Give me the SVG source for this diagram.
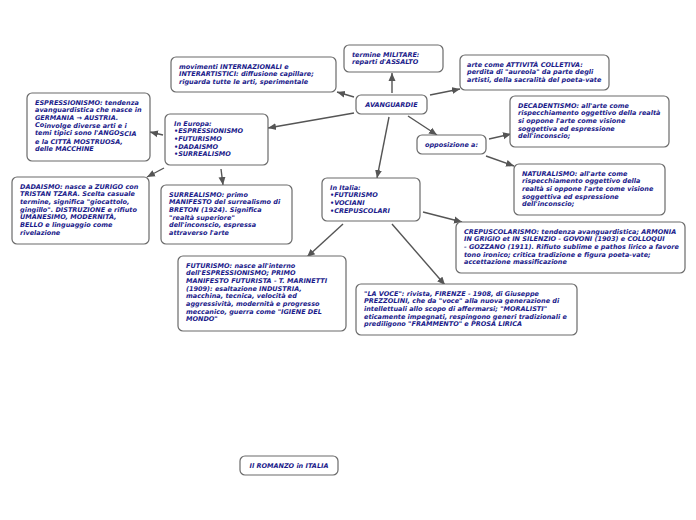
<svg xmlns="http://www.w3.org/2000/svg" width="696" height="520" viewBox="0 0 696 520">
<style>
.b{fill:#fff;stroke:#6a6a6a;stroke-width:1.2}
.t{font-family:"DejaVu Sans",Verdana,sans-serif;font-size:6.5px;font-weight:bold;font-style:italic;fill:#1a1a8a}
.c{fill:none;stroke:#555;stroke-width:1.4}
</style>
<defs>
<marker id="ah" markerUnits="userSpaceOnUse" markerWidth="9" markerHeight="8" refX="8" refY="4" orient="auto">
<path d="M0,0.5 L8,4 L0,7.5 z" fill="#555"/>
</marker>
</defs>
<rect width="696" height="520" fill="#fff"/>
<g id="connectors">
<line class="c" x1="392" y1="93" x2="392" y2="73" marker-end="url(#ah)"/>
<line class="c" x1="354" y1="97" x2="337" y2="92" marker-end="url(#ah)"/>
<line class="c" x1="430" y1="95" x2="460" y2="89" marker-end="url(#ah)"/>
<line class="c" x1="354" y1="113" x2="268" y2="128" marker-end="url(#ah)"/>
<line class="c" x1="408" y1="116" x2="437" y2="135" marker-end="url(#ah)"/>
<line class="c" x1="389" y1="117" x2="377" y2="178" marker-end="url(#ah)"/>
<line class="c" x1="489" y1="139" x2="511" y2="134" marker-end="url(#ah)"/>
<line class="c" x1="486" y1="156" x2="514" y2="166" marker-end="url(#ah)"/>
<line class="c" x1="163" y1="135" x2="150" y2="132" marker-end="url(#ah)"/>
<line class="c" x1="164" y1="168" x2="147" y2="177" marker-end="url(#ah)"/>
<line class="c" x1="221" y1="169" x2="223" y2="185" marker-end="url(#ah)"/>
<line class="c" x1="423" y1="212" x2="462" y2="222" marker-end="url(#ah)"/>
<line class="c" x1="343" y1="224" x2="307" y2="257" marker-end="url(#ah)"/>
<line class="c" x1="392" y1="224" x2="445" y2="285" marker-end="url(#ah)"/>
</g>
<g id="movimenti">
<rect class="b" x="171" y="57" width="165" height="35" rx="5"/>
<text class="t" x="179"><tspan y="68.5">movimenti INTERNAZIONALI e</tspan><tspan x="179" y="76.2">INTERARTISTICI: diffusione capillare;</tspan><tspan x="179" y="83.9">riguarda tutte le arti, sperimentale</tspan></text>
</g>
<g id="termine">
<rect class="b" x="344" y="45" width="99" height="27" rx="5"/>
<text class="t" x="352"><tspan y="56.5">termine MILITARE:</tspan><tspan x="352" y="64.2">reparti d'ASSALTO</tspan></text>
</g>
<g id="arte">
<rect class="b" x="460" y="55" width="149" height="35" rx="5"/>
<text class="t" x="467"><tspan y="66.5">arte come ATTIVITÀ COLLETIVA:</tspan><tspan x="467" y="74.2">perdita di "aureola" da parte degli</tspan><tspan x="467" y="81.9">artisti, della sacralità del poeta-vate</tspan></text>
</g>
<g id="avanguardie">
<rect class="b" x="356" y="95" width="71" height="19" rx="5"/>
<text class="t" x="391.5" y="106.8" text-anchor="middle">AVANGUARDIE</text>
</g>
<g id="opposizione">
<rect class="b" x="417" y="135" width="69" height="19" rx="5"/>
<text class="t" x="451.5" y="146.8" text-anchor="middle">opposizione a:</text>
</g>
<g id="espressionismo">
<rect class="b" x="27" y="93" width="123" height="68" rx="5"/>
<text class="t" x="35"><tspan y="104.5">ESPRESSIONISMO: tendenza</tspan><tspan x="35" y="112.2">avanguardistica che nasce in</tspan><tspan x="35" y="119.9">GERMANIA → AUSTRIA.</tspan><tspan x="35" y="127.1">Co</tspan><tspan y="128.1">involge diverse arti e i</tspan><tspan x="35" y="135.3">temi tipici sono l'ANGO</tspan><tspan y="136.3">SCIA</tspan><tspan x="35" y="143.5">e la CITTÀ MOSTRUOSA,</tspan><tspan x="35" y="151.2">delle MACCHINE</tspan></text>
</g>
<g id="europa">
<rect class="b" x="165" y="114" width="103" height="51" rx="5"/>
<text class="t" x="174"><tspan y="125.5">In Europa:</tspan><tspan x="174" y="133.2">•ESPRESSIONISMO</tspan><tspan x="174" y="140.9">•FUTURISMO</tspan><tspan x="174" y="148.6">•DADAISMO</tspan><tspan x="174" y="156.3">•SURREALISMO</tspan></text>
</g>
<g id="decadentismo">
<rect class="b" x="510" y="96" width="159" height="51" rx="5"/>
<text class="t" x="518"><tspan y="107.5">DECADENTISMO: all'arte come</tspan><tspan x="518" y="115.2">rispecchiamento oggettivo della realtà</tspan><tspan x="518" y="122.9">si oppone l'arte come visione</tspan><tspan x="518" y="130.6">soggettiva ed espressione</tspan><tspan x="518" y="138.3">dell'inconscio;</tspan></text>
</g>
<g id="dadaismo">
<rect class="b" x="12" y="177" width="137" height="67" rx="5"/>
<text class="t" x="20"><tspan y="188.5">DADAISMO: nasce a ZURIGO con</tspan><tspan x="20" y="196.2">TRISTAN TZARA. Scelta casuale</tspan><tspan x="20" y="203.9">termine, significa "giocattolo,</tspan><tspan x="20" y="211.6">gingillo". DISTRUZIONE e rifiuto</tspan><tspan x="20" y="219.3">UMANESIMO, MODERNITÀ,</tspan><tspan x="20" y="227">BELLO e linguaggio come</tspan><tspan x="20" y="234.7">rivelazione</tspan></text>
</g>
<g id="surrealismo">
<rect class="b" x="161" y="185" width="131" height="59" rx="5"/>
<text class="t" x="169"><tspan y="196.5">SURREALISMO: primo</tspan><tspan x="169" y="204.2">MANIFESTO del surrealismo di</tspan><tspan x="169" y="211.9">BRETON (1924). Significa</tspan><tspan x="169" y="219.6">"realtà superiore"</tspan><tspan x="169" y="227.3">dell'inconscio, espressa</tspan><tspan x="169" y="235">attraverso l'arte</tspan></text>
</g>
<g id="italia">
<rect class="b" x="322" y="178" width="98" height="43" rx="5"/>
<text class="t" x="330"><tspan y="189.5">In Italia:</tspan><tspan x="330" y="197.2">•FUTURISMO</tspan><tspan x="330" y="204.9">•VOCIANI</tspan><tspan x="330" y="212.6">•CREPUSCOLARI</tspan></text>
</g>
<g id="naturalismo">
<rect class="b" x="514" y="164" width="151" height="51" rx="5"/>
<text class="t" x="522"><tspan y="175.5">NATURALISMO: all'arte come</tspan><tspan x="522" y="183.2">rispecchiamento oggettivo della</tspan><tspan x="522" y="190.9">realtà si oppone l'arte come visione</tspan><tspan x="522" y="198.6">soggettiva ed espressione</tspan><tspan x="522" y="206.3">dell'inconscio;</tspan></text>
</g>
<g id="crepuscolarismo">
<rect class="b" x="456" y="222" width="229" height="51" rx="5"/>
<text class="t" x="464"><tspan y="233.5">CREPUSCOLARISMO: tendenza avanguardistica; ARMONIA</tspan><tspan x="464" y="241.2">IN GRIGIO et IN SILENZIO - GOVONI (1903) e COLLOQUI</tspan><tspan x="464" y="248.9">- GOZZANO (1911). Rifiuto sublime e pathos lirico a favore</tspan><tspan x="464" y="256.6">tono ironico; critica tradizione e figura poeta-vate;</tspan><tspan x="464" y="264.3">accettazione massificazione</tspan></text>
</g>
<g id="futurismo">
<rect class="b" x="178" y="256" width="168" height="75" rx="5"/>
<text class="t" x="186"><tspan y="267.5">FUTURISMO: nasce all'interno</tspan><tspan x="186" y="275.2">dell'ESPRESSIONISMO; PRIMO</tspan><tspan x="186" y="282.9">MANIFESTO FUTURISTA - T. MARINETTI</tspan><tspan x="186" y="290.6">(1909): esaltazione INDUSTRIA,</tspan><tspan x="186" y="298.3">macchina, tecnica, velocità ed</tspan><tspan x="186" y="306">aggressività, modernità e progresso</tspan><tspan x="186" y="313.7">meccanico, guerra come "IGIENE DEL</tspan><tspan x="186" y="321.4">MONDO"</tspan></text>
</g>
<g id="lavoce">
<rect class="b" x="356" y="284" width="221" height="51" rx="5"/>
<text class="t" x="364"><tspan y="295.5">"LA VOCE": rivista, FIRENZE - 1908, di Giuseppe</tspan><tspan x="364" y="303.2">PREZZOLINI, che da "voce" alla nuova generazione di</tspan><tspan x="364" y="310.9">intellettuali allo scopo di affermarsi; "MORALISTI"</tspan><tspan x="364" y="318.6">eticamente impegnati, respingono generi tradizionali e</tspan><tspan x="364" y="326.3">prediligono "FRAMMENTO" e PROSA LIRICA</tspan></text>
</g>
<g id="romanzo">
<rect class="b" x="240" y="456" width="98" height="19" rx="5"/>
<text class="t" x="289" y="467.8" text-anchor="middle">Il ROMANZO in ITALIA</text>
</g>
</svg>
